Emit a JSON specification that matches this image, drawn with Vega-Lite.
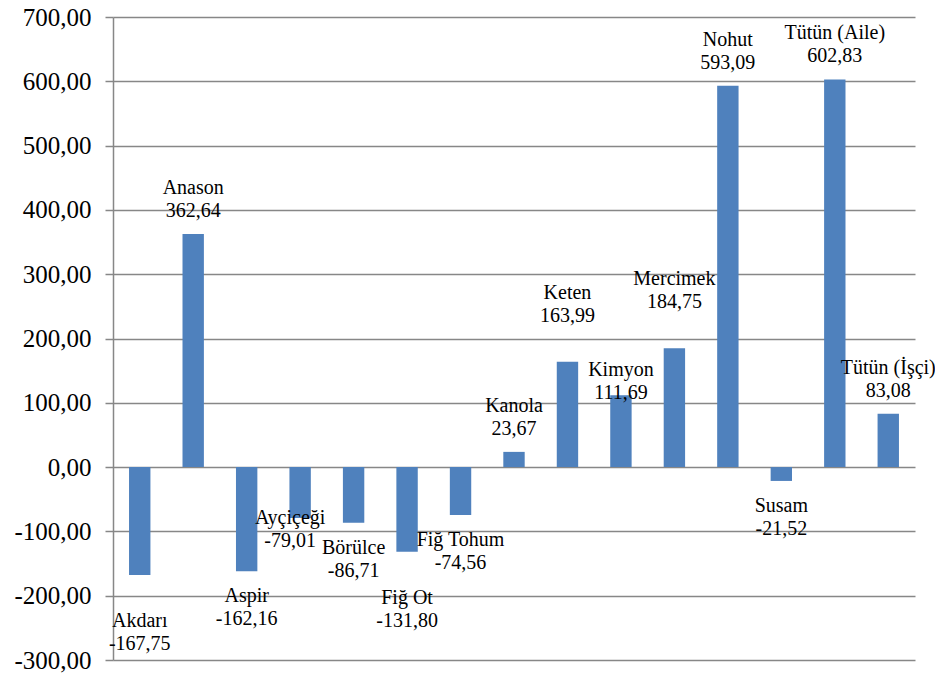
{
  "$schema": "https://vega.github.io/schema/vega-lite/v6.json",
  "autosize": "none",
  "width": 802,
  "height": 643,
  "padding": {"left": 113, "top": 17, "right": 20, "bottom": 17},
  "background": "white",
  "config": {
    "locale": {"number": {"decimal": ",", "thousands": ".", "grouping": [3], "currency": ["", ""], "minus": "-"}},
    "view": {"stroke": null},
    "font": "Liberation Serif",
    "text": {"font": "Liberation Serif", "fontSize": 20, "lineHeight": 23, "color": "black", "align": "center"}
  },
  "data": {
    "values": [
      {"urun": "Akdarı", "deger": -167.75},
      {"urun": "Anason", "deger": 362.64},
      {"urun": "Aspir", "deger": -162.16},
      {"urun": "Ayçiçeği", "deger": -79.01},
      {"urun": "Börülce", "deger": -86.71},
      {"urun": "Fiğ Ot", "deger": -131.80},
      {"urun": "Fiğ Tohum", "deger": -74.56},
      {"urun": "Kanola", "deger": 23.67},
      {"urun": "Keten", "deger": 163.99},
      {"urun": "Kimyon", "deger": 111.69},
      {"urun": "Mercimek", "deger": 184.75},
      {"urun": "Nohut", "deger": 593.09},
      {"urun": "Susam", "deger": -21.52},
      {"urun": "Tütün (Aile)", "deger": 602.83},
      {"urun": "Tütün (İşçi)", "deger": 83.08}
    ]
  },
  "transform": [
    {"calculate": "[datum.urun, replace(format(datum.deger, '.2f'), '.', ',')]", "as": "etiket"}
  ],
  "encoding": {
    "x": {
      "field": "urun", "type": "nominal", "sort": null,
      "scale": {"paddingInner": 0.6, "paddingOuter": 0.3},
      "axis": null
    },
    "y": {
      "field": "deger", "type": "quantitative",
      "scale": {"domain": [-300, 700], "nice": false},
      "axis": {
        "values": [-300, -200, -100, 0, 100, 200, 300, 400, 500, 600, 700],
        "format": ".2f",
        "title": null,
        "labelFont": "Liberation Serif",
        "labelFontSize": 25,
        "labelColor": "black",
        "labelPadding": 14,
        "tickSize": 8,
        "tickColor": "#878787",
        "tickWidth": 1.5,
        "domainColor": "#878787",
        "domainWidth": 1.5,
        "grid": true,
        "gridColor": "#878787",
        "gridWidth": 1.5
      }
    }
  },
  "layer": [
    {"mark": {"type": "bar", "color": "#4F81BD"}},
    {
      "transform": [{"filter": "indexof(['Anason','Kanola','Nohut','Tütün (Aile)','Tütün (İşçi)'], datum.urun) >= 0"}],
      "mark": {"type": "text", "baseline": "alphabetic", "dy": -40},
      "encoding": {"text": {"field": "etiket"}}
    },
    {
      "transform": [{"filter": "indexof(['Keten','Mercimek'], datum.urun) >= 0"}],
      "mark": {"type": "text", "baseline": "alphabetic", "dy": -63},
      "encoding": {"text": {"field": "etiket"}}
    },
    {
      "transform": [{"filter": "datum.urun == 'Kimyon'"}],
      "mark": {"type": "text", "baseline": "alphabetic", "dy": -19},
      "encoding": {"text": {"field": "etiket"}}
    },
    {
      "transform": [{"filter": "indexof(['Aspir','Börülce','Fiğ Tohum','Susam'], datum.urun) >= 0"}],
      "mark": {"type": "text", "baseline": "top", "dy": 15},
      "encoding": {"text": {"field": "etiket"}}
    },
    {
      "transform": [{"filter": "indexof(['Akdarı','Fiğ Ot'], datum.urun) >= 0"}],
      "mark": {"type": "text", "baseline": "top", "dy": 36},
      "encoding": {"text": {"field": "etiket"}}
    },
    {
      "transform": [{"filter": "datum.urun == 'Ayçiçeği'"}],
      "mark": {"type": "text", "baseline": "top", "dy": -10, "dx": -10},
      "encoding": {"text": {"field": "etiket"}}
    }
  ]
}
